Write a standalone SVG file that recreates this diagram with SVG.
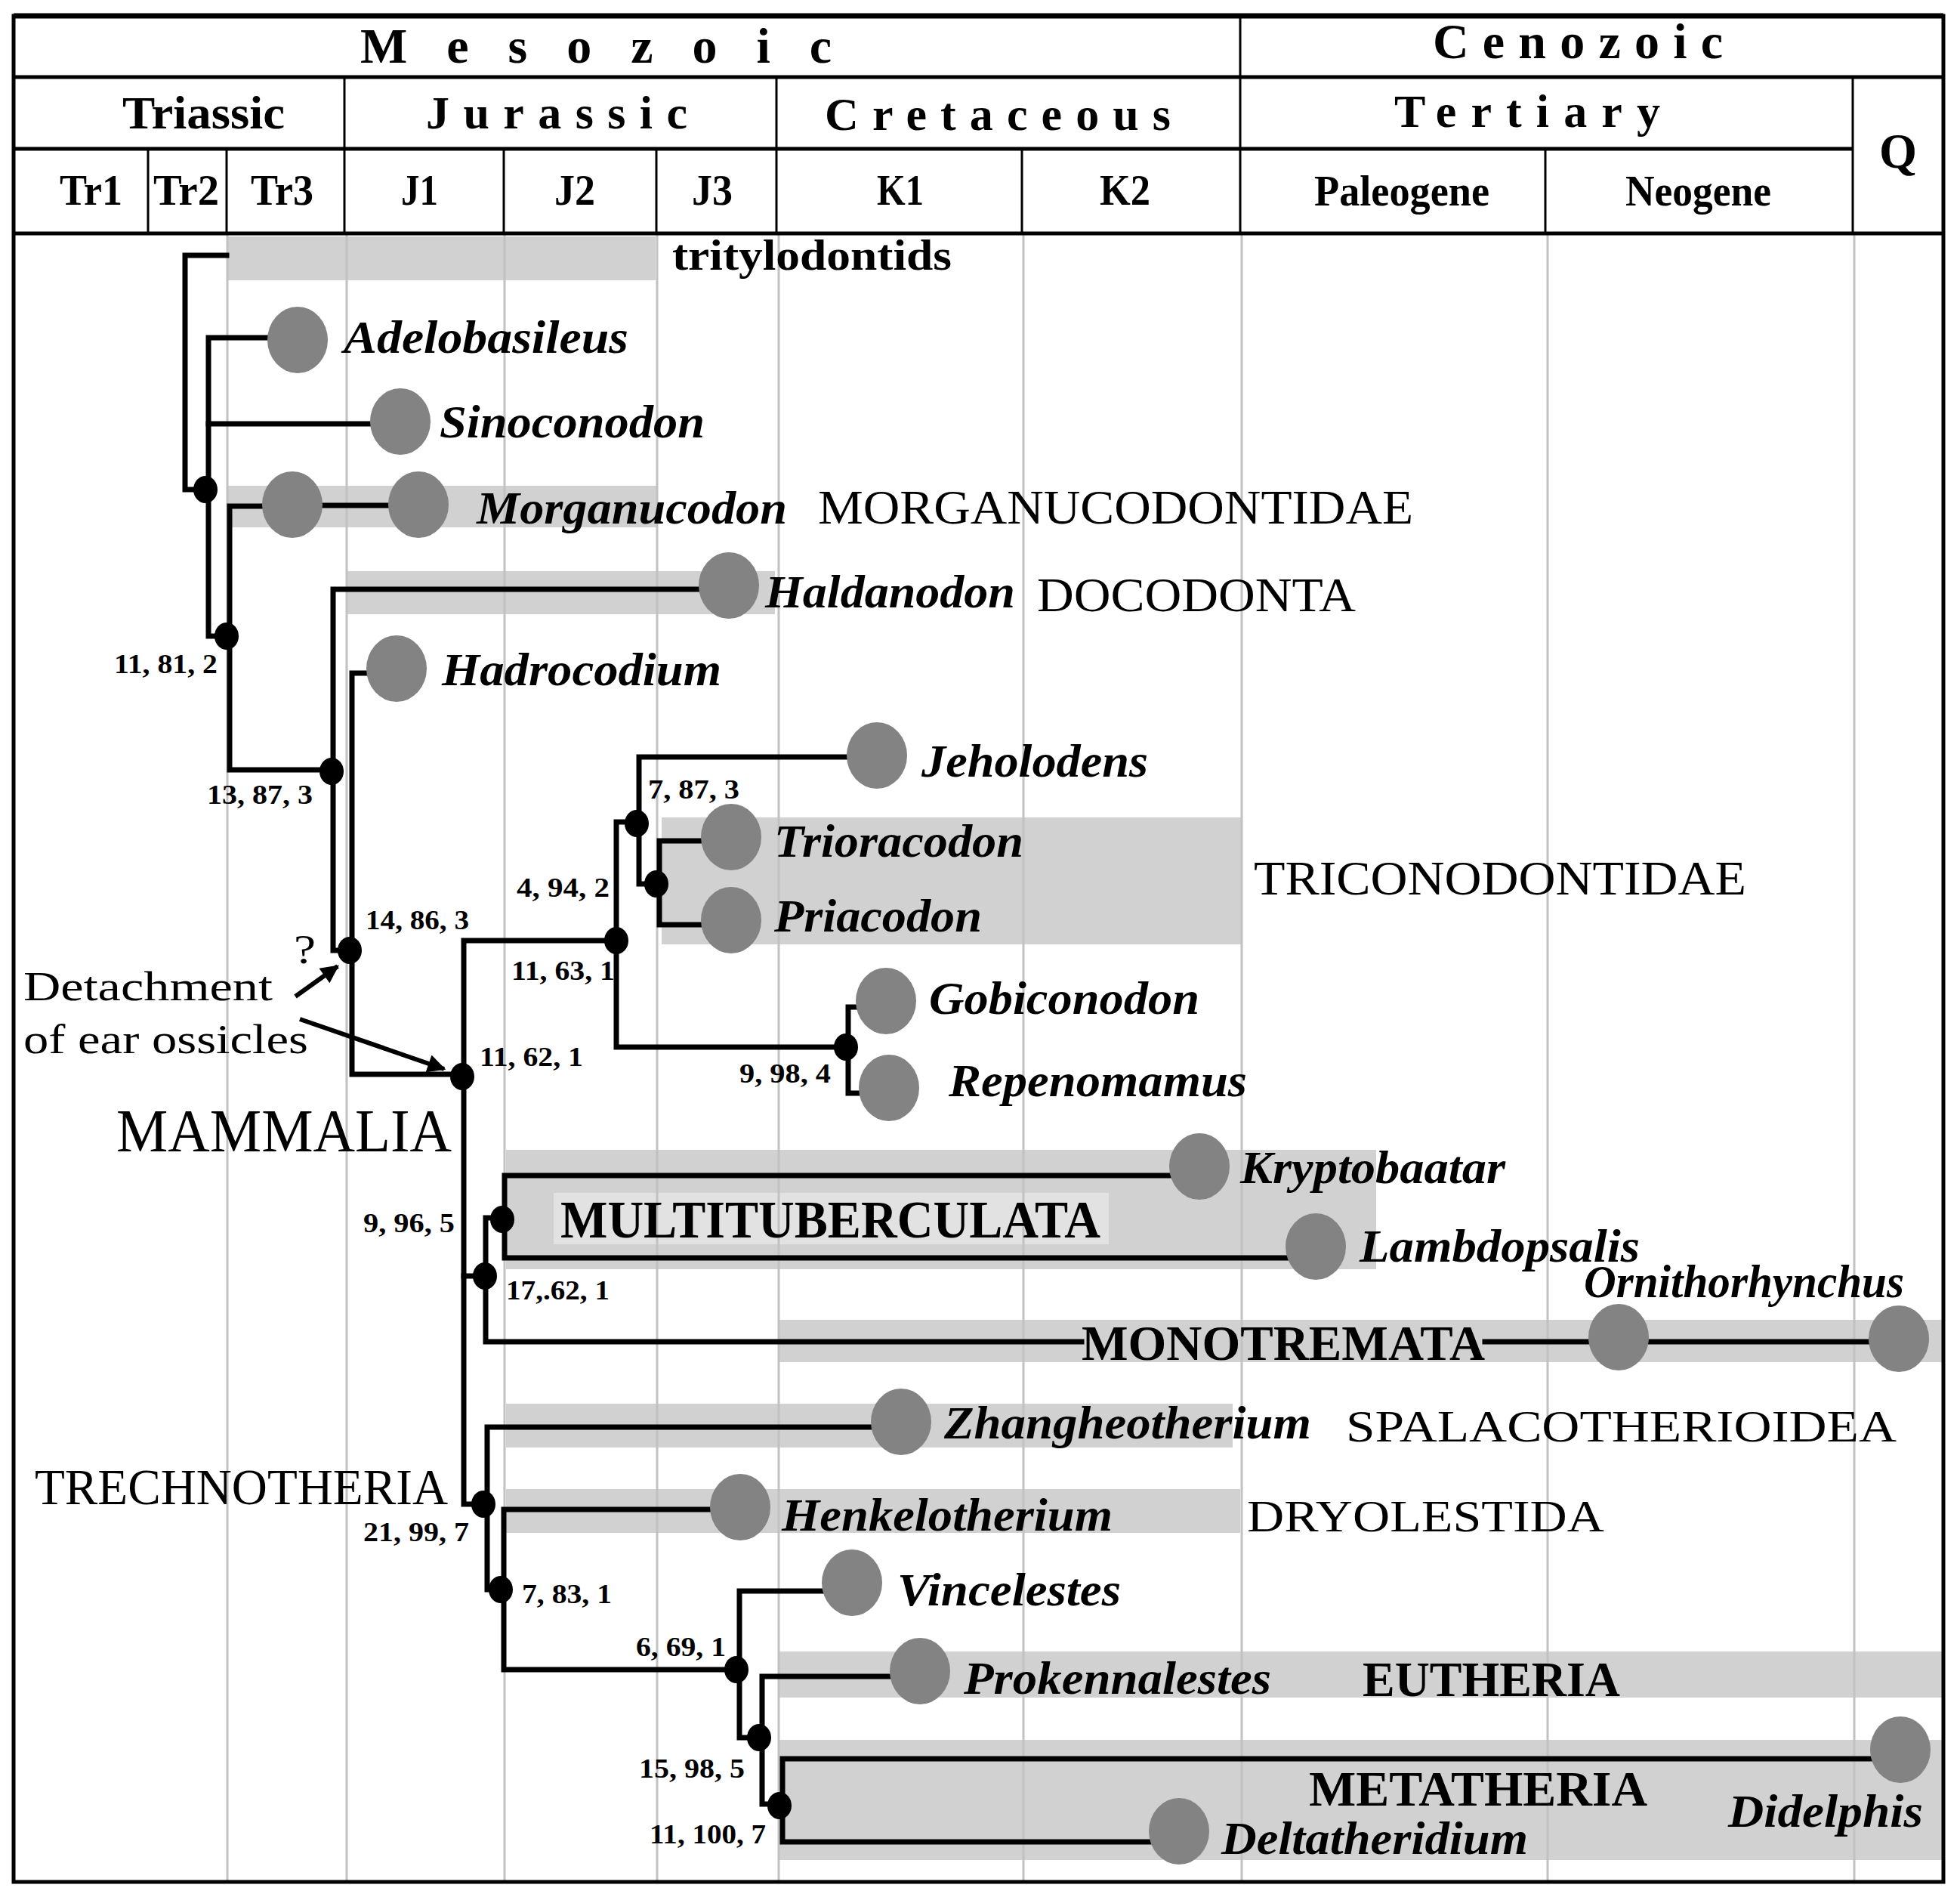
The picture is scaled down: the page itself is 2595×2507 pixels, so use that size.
<svg xmlns="http://www.w3.org/2000/svg" width="2595" height="2507" viewBox="0 0 2595 2507">
<defs>
<style>
.bar{fill:#d1d1d1}
.grid{stroke:#c2c2c2;stroke-width:3}
.hl{stroke:#000;stroke-width:5;fill:none}
.hv{stroke:#000;stroke-width:3;fill:none}
.br{stroke:#000;stroke-width:7;fill:none;stroke-linecap:square;stroke-linejoin:miter}
.tx{fill:#838383}
.nd{fill:#000}
text{font-family:"Liberation Serif","Times New Roman",serif;fill:#000}
.h1{font-size:66px;font-weight:bold}
.h2{font-size:62px;font-weight:bold}
.h3{font-size:56px;font-weight:bold}
.g{font-size:62px;font-weight:bold;font-style:italic}
.grp{font-size:64px}
.grpb{font-size:66px;font-weight:bold}
.num{font-size:35px;font-weight:bold}
.lab{font-size:54px}
</style>
<marker id="ah" viewBox="0 0 10 10" refX="9" refY="5" markerWidth="5" markerHeight="4" orient="auto" markerUnits="strokeWidth">
<path d="M0,0 L10,5 L0,10 z" fill="#000"/>
</marker>
</defs>
<rect x="0" y="0" width="2595" height="2507" fill="#fff"/>

<g id="bars">
<rect class="bar" x="300" y="313" width="568" height="58"/>
<rect class="bar" x="302" y="643" width="568" height="55"/>
<rect class="bar" x="460" y="756" width="566" height="57"/>
<rect class="bar" x="876" y="1082" width="768" height="168"/>
<rect class="bar" x="670" y="1522" width="1152" height="158"/>
<rect x="733" y="1579" width="735" height="68" fill="#e2e2e2"/>
<rect class="bar" x="1030" y="1747" width="1545" height="56"/>
<rect class="bar" x="670" y="1858" width="962" height="58"/>
<rect class="bar" x="670" y="1971" width="972" height="58"/>
<rect class="bar" x="1030" y="2186" width="1545" height="61"/>
<rect class="bar" x="1030" y="2303" width="1545" height="159"/>
</g>

<g id="grid">
<line class="grid" x1="301" y1="309" x2="301" y2="2491"/>
<line class="grid" x1="459" y1="309" x2="459" y2="2491"/>
<line class="grid" x1="668" y1="309" x2="668" y2="2491"/>
<line class="grid" x1="870" y1="309" x2="870" y2="2491"/>
<line class="grid" x1="1031" y1="309" x2="1031" y2="2491"/>
<line class="grid" x1="1355" y1="309" x2="1355" y2="2491"/>
<line class="grid" x1="1644" y1="309" x2="1644" y2="2491"/>
<line class="grid" x1="2049" y1="309" x2="2049" y2="2491"/>
<line class="grid" x1="2455" y1="309" x2="2455" y2="2491"/>
</g>

<g id="header">
<rect x="18" y="21" width="2555" height="2470" fill="none" stroke="#000" stroke-width="5"/>
<line x1="18" y1="21" x2="2573" y2="21" stroke="#000" stroke-width="7"/>
<line class="hl" x1="18" y1="102" x2="2573" y2="102"/>
<line class="hl" x1="18" y1="197" x2="2453" y2="197"/>
<line class="hl" x1="18" y1="309" x2="2573" y2="309"/>
<line class="hv" x1="1642" y1="21" x2="1642" y2="309"/>
<line class="hv" x1="456" y1="102" x2="456" y2="309"/>
<line class="hv" x1="1028" y1="102" x2="1028" y2="309"/>
<line class="hv" x1="2453" y1="102" x2="2453" y2="309"/>
<line class="hv" x1="196" y1="197" x2="196" y2="309"/>
<line class="hv" x1="300" y1="197" x2="300" y2="309"/>
<line class="hv" x1="667" y1="197" x2="667" y2="309"/>
<line class="hv" x1="869" y1="197" x2="869" y2="309"/>
<line class="hv" x1="1353" y1="197" x2="1353" y2="309"/>
<line class="hv" x1="2046" y1="197" x2="2046" y2="309"/>
<text class="h1" x="477" y="83" textLength="624" lengthAdjust="spacing">Mesozoic</text>
<text class="h1" x="1897" y="77" textLength="384" lengthAdjust="spacing">Cenozoic</text>
<text class="h2" x="162" y="170" textLength="215" lengthAdjust="spacingAndGlyphs">Triassic</text>
<text class="h2" x="564" y="170" textLength="346" lengthAdjust="spacing">Jurassic</text>
<text class="h2" x="1092" y="172" textLength="458" lengthAdjust="spacing">Cretaceous</text>
<text class="h2" x="1846" y="168" textLength="352" lengthAdjust="spacing">Tertiary</text>
<text class="h1" x="2488" y="222" textLength="50" lengthAdjust="spacingAndGlyphs">Q</text>
<text class="h3" x="79" y="271" textLength="83" lengthAdjust="spacingAndGlyphs">Tr1</text>
<text class="h3" x="203" y="271" textLength="87" lengthAdjust="spacingAndGlyphs">Tr2</text>
<text class="h3" x="332" y="271" textLength="83" lengthAdjust="spacingAndGlyphs">Tr3</text>
<text class="h3" x="531" y="271" textLength="49" lengthAdjust="spacingAndGlyphs">J1</text>
<text class="h3" x="734" y="271" textLength="54" lengthAdjust="spacingAndGlyphs">J2</text>
<text class="h3" x="916" y="271" textLength="54" lengthAdjust="spacingAndGlyphs">J3</text>
<text class="h3" x="1161" y="271" textLength="62" lengthAdjust="spacingAndGlyphs">K1</text>
<text class="h3" x="1456" y="271" textLength="67" lengthAdjust="spacingAndGlyphs">K2</text>
<text class="h3" x="1740" y="272" textLength="232" lengthAdjust="spacingAndGlyphs">Paleogene</text>
<text class="h3" x="2152" y="272" textLength="193" lengthAdjust="spacingAndGlyphs">Neogene</text>
</g>

<g id="connectors">
<path class="br" d="M300,338 H245 V648 H272"/>
<path class="br" d="M356,447 H276 V842 H300"/>
<path class="br" d="M276,561 H490"/>
<path class="br" d="M348,670 H304 V1019 H439"/>
<path class="br" d="M428,669 H516"/>
<path class="br" d="M926,780 H441 V1258 H463"/>
<path class="br" d="M487,891 H466 V1422 H612"/>
<path class="br" d="M815,1245 H614 V1991 H640"/>
<path class="br" d="M843,1088 H816 V1386 H1120"/>
<path class="br" d="M1122,1002 H846 V1170 H869"/>
<path class="br" d="M930,1113 H873 V1224 H930"/>
<path class="br" d="M1136,1333 H1123 V1447 H1140"/>
<path class="br" d="M614,1689 H643"/>
<path class="br" d="M665,1612 H643 V1776 H1432"/>
<path class="br" d="M1966,1776 H2110"/>
<path class="br" d="M2180,1776 H2478"/>
<path class="br" d="M1550,1556 H668 V1665 H1705"/>
<path class="br" d="M1155,1889 H645 V2104 H663"/>
<path class="br" d="M942,1998 H667 V2210 H975"/>
<path class="br" d="M1092,2106 H979 V2300 H1005"/>
<path class="br" d="M1180,2219 H1009 V2388 H1032"/>
<path class="br" d="M2478,2328 H1036 V2438 H1522"/>
<line x1="391" y1="1319" x2="447" y2="1279" stroke="#000" stroke-width="6" marker-end="url(#ah)"/>
<line x1="397" y1="1349" x2="588" y2="1415" stroke="#000" stroke-width="6" marker-end="url(#ah)"/>
</g>

<g id="clade-nodes">
<g id="node-A"><ellipse class="nd" cx="272" cy="648" rx="16" ry="18"/></g>
<g id="node-B"><ellipse class="nd" cx="300" cy="842" rx="16" ry="18"/><text class="num" x="151" y="891" textLength="137" lengthAdjust="spacingAndGlyphs">11, 81, 2</text></g>
<g id="node-C"><ellipse class="nd" cx="439" cy="1021" rx="16" ry="18"/><text class="num" x="274" y="1064" textLength="140" lengthAdjust="spacingAndGlyphs">13, 87, 3</text></g>
<g id="node-D"><ellipse class="nd" cx="463" cy="1258" rx="16" ry="18"/><text class="num" x="484" y="1230" textLength="137" lengthAdjust="spacingAndGlyphs">14, 86, 3</text></g>
<g id="node-E"><ellipse class="nd" cx="612" cy="1425" rx="16" ry="18"/><text class="num" x="635" y="1411" textLength="137" lengthAdjust="spacingAndGlyphs">11, 62, 1</text></g>
<g id="node-F"><ellipse class="nd" cx="816" cy="1245" rx="16" ry="18"/><text class="num" x="684" y="1187" textLength="123" lengthAdjust="spacingAndGlyphs">4, 94, 2</text><text class="num" x="677" y="1297" textLength="137" lengthAdjust="spacingAndGlyphs">11, 63, 1</text></g>
<g id="node-G"><ellipse class="nd" cx="843" cy="1090" rx="16" ry="18"/><text class="num" x="858" y="1057" textLength="121" lengthAdjust="spacingAndGlyphs">7, 87, 3</text></g>
<g id="node-I"><ellipse class="nd" cx="869" cy="1170" rx="16" ry="18"/></g>
<g id="node-H"><ellipse class="nd" cx="1120" cy="1386" rx="16" ry="18"/><text class="num" x="979" y="1433" textLength="121" lengthAdjust="spacingAndGlyphs">9, 98, 4</text></g>
<g id="node-L"><ellipse class="nd" cx="665" cy="1614" rx="16" ry="18"/><text class="num" x="481" y="1631" textLength="121" lengthAdjust="spacingAndGlyphs">9, 96, 5</text></g>
<g id="node-K"><ellipse class="nd" cx="642" cy="1689" rx="16" ry="18"/><text class="num" x="670" y="1720" textLength="137" lengthAdjust="spacingAndGlyphs">17,.62, 1</text></g>
<g id="node-J"><ellipse class="nd" cx="640" cy="1991" rx="16" ry="18"/><text class="num" x="481" y="2040" textLength="140" lengthAdjust="spacingAndGlyphs">21, 99, 7</text></g>
<g id="node-M"><ellipse class="nd" cx="663" cy="2104" rx="16" ry="18"/><text class="num" x="691" y="2122" textLength="119" lengthAdjust="spacingAndGlyphs">7, 83, 1</text></g>
<g id="node-N"><ellipse class="nd" cx="975" cy="2210" rx="16" ry="18"/><text class="num" x="842" y="2192" textLength="119" lengthAdjust="spacingAndGlyphs">6, 69, 1</text></g>
<g id="node-O"><ellipse class="nd" cx="1005" cy="2300" rx="16" ry="18"/><text class="num" x="846" y="2353" textLength="140" lengthAdjust="spacingAndGlyphs">15, 98, 5</text></g>
<g id="node-P"><ellipse class="nd" cx="1032" cy="2390" rx="16" ry="18"/><text class="num" x="860" y="2440" textLength="154" lengthAdjust="spacingAndGlyphs">11, 100, 7</text></g>
</g>

<g id="taxa">
<g id="tritylodontids"><text x="890" y="357" font-size="58" font-weight="bold" textLength="370" lengthAdjust="spacingAndGlyphs">tritylodontids</text></g>
<g id="adelobasileus"><ellipse class="tx" cx="394" cy="450" rx="40" ry="44"/><text class="g" x="455" y="467" textLength="377" lengthAdjust="spacingAndGlyphs">Adelobasileus</text></g>
<g id="sinoconodon"><ellipse class="tx" cx="530" cy="558" rx="40" ry="44"/><text class="g" x="582" y="579" textLength="351" lengthAdjust="spacingAndGlyphs">Sinoconodon</text></g>
<g id="morganucodon"><ellipse class="tx" cx="387" cy="668" rx="40" ry="44"/><ellipse class="tx" cx="554" cy="668" rx="40" ry="44"/><text class="g" x="631" y="693" textLength="411" lengthAdjust="spacingAndGlyphs">Morganucodon</text><text class="grp" x="1083" y="693" textLength="788" lengthAdjust="spacingAndGlyphs">MORGANUCODONTIDAE</text></g>
<g id="haldanodon"><ellipse class="tx" cx="965" cy="775" rx="40" ry="44"/><text class="g" x="1013" y="804" textLength="331" lengthAdjust="spacingAndGlyphs">Haldanodon</text><text class="grp" x="1373" y="809" textLength="422" lengthAdjust="spacingAndGlyphs">DOCODONTA</text></g>
<g id="hadrocodium"><ellipse class="tx" cx="525" cy="885" rx="40" ry="44"/><text class="g" x="585" y="907" textLength="370" lengthAdjust="spacingAndGlyphs">Hadrocodium</text></g>
<g id="jeholodens"><ellipse class="tx" cx="1161" cy="1000" rx="40" ry="44"/><text class="g" x="1220" y="1028" textLength="300" lengthAdjust="spacingAndGlyphs">Jeholodens</text></g>
<g id="trioracodon"><ellipse class="tx" cx="968" cy="1108" rx="40" ry="44"/><text class="g" x="1025" y="1134" textLength="330" lengthAdjust="spacingAndGlyphs">Trioracodon</text></g>
<g id="priacodon"><ellipse class="tx" cx="968" cy="1218" rx="40" ry="44"/><text class="g" x="1025" y="1233" textLength="275" lengthAdjust="spacingAndGlyphs">Priacodon</text></g>
<g id="triconodontidae"><text class="grp" x="1660" y="1184" textLength="652" lengthAdjust="spacingAndGlyphs">TRICONODONTIDAE</text></g>
<g id="gobiconodon"><ellipse class="tx" cx="1173" cy="1325" rx="40" ry="44"/><text class="g" x="1230" y="1342" textLength="358" lengthAdjust="spacingAndGlyphs">Gobiconodon</text></g>
<g id="repenomamus"><ellipse class="tx" cx="1177" cy="1440" rx="40" ry="44"/><text class="g" x="1256" y="1451" textLength="395" lengthAdjust="spacingAndGlyphs">Repenomamus</text></g>
<g id="multituberculata"><text x="742" y="1638" font-size="70" font-weight="bold" textLength="715" lengthAdjust="spacingAndGlyphs">MULTITUBERCULATA</text></g>
<g id="kryptobaatar"><ellipse class="tx" cx="1588" cy="1544" rx="40" ry="44"/><text class="g" x="1642" y="1566" textLength="351" lengthAdjust="spacingAndGlyphs">Kryptobaatar</text></g>
<g id="lambdopsalis"><ellipse class="tx" cx="1742" cy="1650" rx="40" ry="44"/><text class="g" x="1800" y="1670" textLength="371" lengthAdjust="spacingAndGlyphs">Lambdopsalis</text></g>
<g id="monotremata"><ellipse class="tx" cx="2143" cy="1770" rx="40" ry="44"/><ellipse class="tx" cx="2514" cy="1772" rx="40" ry="44"/><text class="g" x="2097" y="1717" font-size="56" textLength="424" lengthAdjust="spacingAndGlyphs">Ornithorhynchus</text><text class="grpb" x="1432" y="1800" textLength="534" lengthAdjust="spacingAndGlyphs">MONOTREMATA</text></g>
<g id="zhangheotherium"><ellipse class="tx" cx="1193" cy="1882" rx="40" ry="44"/><text class="g" x="1250" y="1904" textLength="486" lengthAdjust="spacingAndGlyphs">Zhangheotherium</text><text x="1782" y="1908" font-size="60" textLength="729" lengthAdjust="spacingAndGlyphs">SPALACOTHERIOIDEA</text></g>
<g id="henkelotherium"><ellipse class="tx" cx="980" cy="1995" rx="40" ry="44"/><text class="g" x="1035" y="2026" textLength="438" lengthAdjust="spacingAndGlyphs">Henkelotherium</text><text x="1651" y="2027" font-size="60" textLength="473" lengthAdjust="spacingAndGlyphs">DRYOLESTIDA</text></g>
<g id="vincelestes"><ellipse class="tx" cx="1128" cy="2095" rx="40" ry="44"/><text class="g" x="1188" y="2125" textLength="296" lengthAdjust="spacingAndGlyphs">Vincelestes</text></g>
<g id="prokennalestes"><ellipse class="tx" cx="1218" cy="2212" rx="40" ry="44"/><text class="g" x="1276" y="2242" textLength="407" lengthAdjust="spacingAndGlyphs">Prokennalestes</text><text class="grpb" x="1804" y="2245" textLength="341" lengthAdjust="spacingAndGlyphs">EUTHERIA</text></g>
<g id="didelphis"><ellipse class="tx" cx="2516" cy="2316" rx="40" ry="44"/><text class="g" x="2288" y="2418" textLength="258" lengthAdjust="spacingAndGlyphs">Didelphis</text><text class="grpb" x="1733" y="2390" font-size="64" textLength="448" lengthAdjust="spacingAndGlyphs">METATHERIA</text></g>
<g id="deltatheridium"><ellipse class="tx" cx="1561" cy="2424" rx="40" ry="44"/><text class="g" x="1617" y="2454" font-size="60" textLength="406" lengthAdjust="spacingAndGlyphs">Deltatheridium</text></g>
</g>

<g id="annotations">
<text x="154" y="1524" font-size="80" textLength="444" lengthAdjust="spacingAndGlyphs">MAMMALIA</text>
<text x="46" y="1991" font-size="68" textLength="547" lengthAdjust="spacingAndGlyphs">TRECHNOTHERIA</text>
<text class="lab" x="31" y="1324" textLength="330" lengthAdjust="spacingAndGlyphs">Detachment</text>
<text class="lab" x="31" y="1394" textLength="377" lengthAdjust="spacingAndGlyphs">of ear ossicles</text>
<text class="lab" x="389" y="1275" textLength="29" lengthAdjust="spacingAndGlyphs">?</text>
</g>
</svg>
